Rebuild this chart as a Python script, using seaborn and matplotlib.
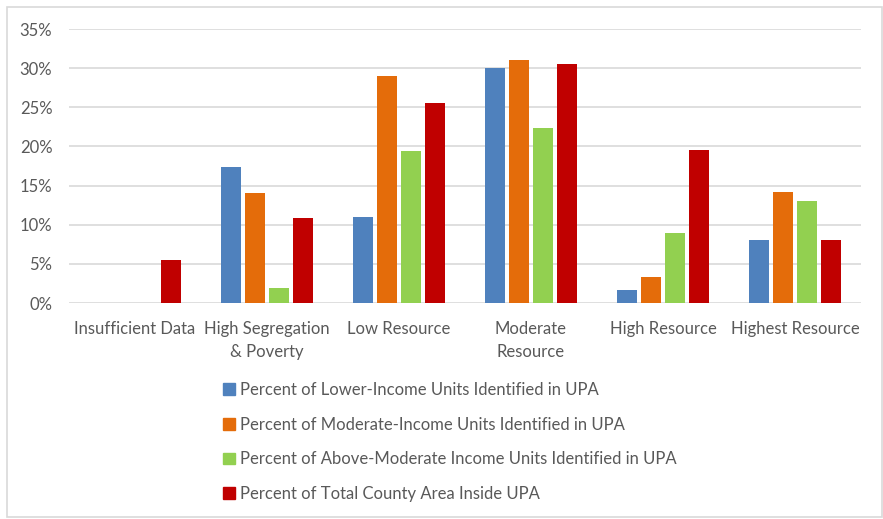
import matplotlib
matplotlib.use("Agg")
import matplotlib.pyplot as plt
from matplotlib.ticker import PercentFormatter, MultipleLocator
from matplotlib.patches import Rectangle
import seaborn as sns
import pandas as pd

categories = ["Insufficient Data", "High Segregation\n& Poverty", "Low Resource",
              "Moderate\nResource", "High Resource", "Highest Resource"]
series = ["Percent of Lower-Income Units Identified in UPA",
          "Percent of Moderate-Income Units Identified in UPA",
          "Percent of Above-Moderate Income Units Identified in UPA",
          "Percent of Total County Area Inside UPA"]
lower_income = [0.0, 17.4, 11.0, 30.0, 1.7, 8.0]
moderate_income = [0.0, 14.0, 29.0, 31.0, 3.3, 14.2]
above_moderate = [0.0, 1.9, 19.4, 22.3, 9.0, 13.0]
county_area = [5.5, 10.9, 25.5, 30.5, 19.6, 8.1]
colors = ["#4F81BD", "#E46C0A", "#92D050", "#C00000"]

rows = []
for name, vals in zip(series, [lower_income, moderate_income, above_moderate, county_area]):
    for cat, v in zip(categories, vals):
        rows.append({"category": cat, "series": name, "value": v})
df = pd.DataFrame(rows)

sns.set_theme(style="white")
plt.rcParams["font.family"] = ["Lato", "DejaVu Sans"]
text_color = "#595959"

fig = plt.figure(figsize=(8.83, 5.19), dpi=100)
ax = fig.add_axes([69 / 883, 216 / 519, (861 - 69) / 883, (303 - 29) / 519])

sns.barplot(data=df, x="category", y="value", hue="series", order=categories,
            hue_order=series, palette=colors, width=0.727, gap=0.2,
            saturation=1, linewidth=0, ax=ax, legend=False)

ax.set_ylim(0, 35)
ax.set_xlim(-0.5, len(categories) - 0.5)
ax.yaxis.set_major_locator(MultipleLocator(5))
ax.yaxis.set_major_formatter(PercentFormatter(100, decimals=0))
ax.grid(axis="y", color="#D9D9D9", linewidth=1.2)
ax.set_axisbelow(True)
for s in ax.spines.values():
    s.set_visible(False)
ax.set_xlabel("")
ax.set_ylabel("")
ax.tick_params(axis="both", length=0, labelsize=12, colors=text_color)
ax.tick_params(axis="y", pad=12)
ax.tick_params(axis="x", pad=13)
for lbl in ax.get_xticklabels():
    lbl.set_linespacing(1.55)

handles = [Rectangle((0, 0), 1, 1, color=c) for c in colors]
fig.legend(handles, series, loc="upper left", bbox_to_anchor=(216 / 883, 1 - 375 / 519),
           frameon=False, fontsize=12, labelcolor=text_color,
           handlelength=0.72, handleheight=0.72, handletextpad=0.3,
           labelspacing=1.13, borderaxespad=0)

# outer chart frame
fig.patches.append(Rectangle((7 / 883, 2 / 519), 875 / 883, 510 / 519, transform=fig.transFigure,
                             fill=False, edgecolor="#D9D9D9", linewidth=1.2))

fig.text(318 / 883, 1 + 4 / 519, "Opportunity", color="#C8102E", fontsize=15,
         fontweight="bold", va="baseline", ha="left")

fig.savefig("out.png", dpi=100)
